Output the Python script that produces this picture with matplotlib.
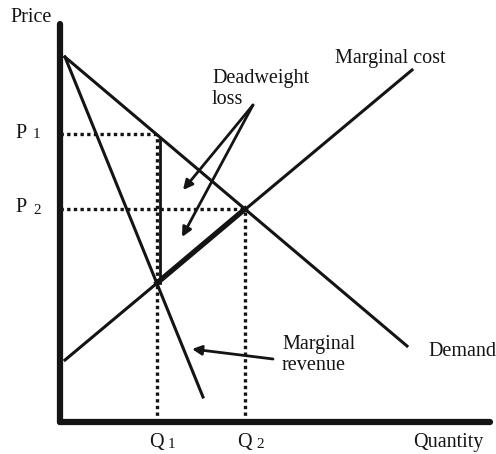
import matplotlib
matplotlib.use("Agg")
import matplotlib.pyplot as plt

# ---- data (quantity / price units) ----
demand_q = [5, 347]
demand_p = [365, 76]
mr_q = [5, 143]
mr_p = [365, 25]
mc_q = [5, 352]
mc_p = [62, 352]
q_levels = [97, 185]          # Q1, Q2
p_levels = [288, 213]         # P1, P2
mc_at_q1 = 139
axis_q_max = 430
axis_p_max = 398

INK = "#141414"
plt.rcParams['font.family'] = ['Liberation Serif', 'DejaVu Serif']

fig = plt.figure(figsize=(4.96, 4.54), dpi=100)
ax = fig.add_axes([0, 0, 1, 1])
ax.set_xlim(-60, 436)
ax.set_ylim(-32, 422)
ax.axis('off')

# axes
ax.plot([0, 0], [0, axis_p_max], color=INK, lw=4.5, solid_capstyle='round')
ax.plot([0, axis_q_max], [0, 0], color=INK, lw=4.5, solid_capstyle='round')

# dotted guides
dot = dict(color=INK, lw=2.4, linestyle=(0, (1, 1)))
ax.plot([0, q_levels[0]], [p_levels[0], p_levels[0]], **dot)
ax.plot([q_levels[0], q_levels[0]], [0, p_levels[0]], **dot)
ax.plot([0, q_levels[1]], [p_levels[1], p_levels[1]], **dot)
ax.plot([q_levels[1], q_levels[1]], [0, p_levels[1]], **dot)

# curves
ax.plot(demand_q, demand_p, color=INK, lw=2.2)
ax.plot(mr_q, mr_p, color=INK, lw=2.2)
ax.plot(mc_q, mc_p, color=INK, lw=2.2)
# deadweight triangle edges
ax.plot([q_levels[0] + 3, q_levels[0] + 3], [mc_at_q1, p_levels[0] - 4], color=INK, lw=2.0)
ax.plot([q_levels[0], q_levels[1]], [mc_at_q1, p_levels[1]], color=INK, lw=3.8)

fs = 14.5
ax.text(-50, 405, "Price", fontsize=fs, ha='left', va='center', color=INK)
for lab, p in zip(["1", "2"], p_levels):
    ax.text(-45, p + 1, "P", fontsize=fs, ha='left', va='center', color=INK)
    ax.text(-27, p - 1, lab, fontsize=fs * 0.75, ha='left', va='center', color=INK)
for lab, q in zip(["1", "2"], q_levels):
    ax.text(q - 8, -21, "Q", fontsize=fs, ha='left', va='center', color=INK)
    ax.text(q + 11, -23, lab, fontsize=fs * 0.75, ha='left', va='center', color=INK)
ax.text(353, -21, "Quantity", fontsize=fs, ha='left', va='center', color=INK)
ax.text(368, 70, "Demand", fontsize=fs, ha='left', va='center', color=INK)
ax.text(275, 364, "Marginal cost", fontsize=fs, ha='left', va='center', color=INK)
ax.text(152, 333, "Deadweight\nloss", fontsize=fs, ha='left', va='center',
        color=INK, linespacing=1.1)
ax.text(222, 67, "Marginal\nrevenue", fontsize=fs, ha='left', va='center',
        color=INK, linespacing=1.1)

arr = dict(arrowstyle='-|>', color=INK, lw=2.0, mutation_scale=14, shrinkA=0, shrinkB=0)
ax.annotate("", xy=(123, 232), xytext=(193, 317), arrowprops=arr)
ax.annotate("", xy=(122, 185), xytext=(193, 317), arrowprops=arr)
ax.annotate("", xy=(132, 73), xytext=(213, 63), arrowprops=arr)

fig.savefig("out.png", dpi=100, facecolor='white')
